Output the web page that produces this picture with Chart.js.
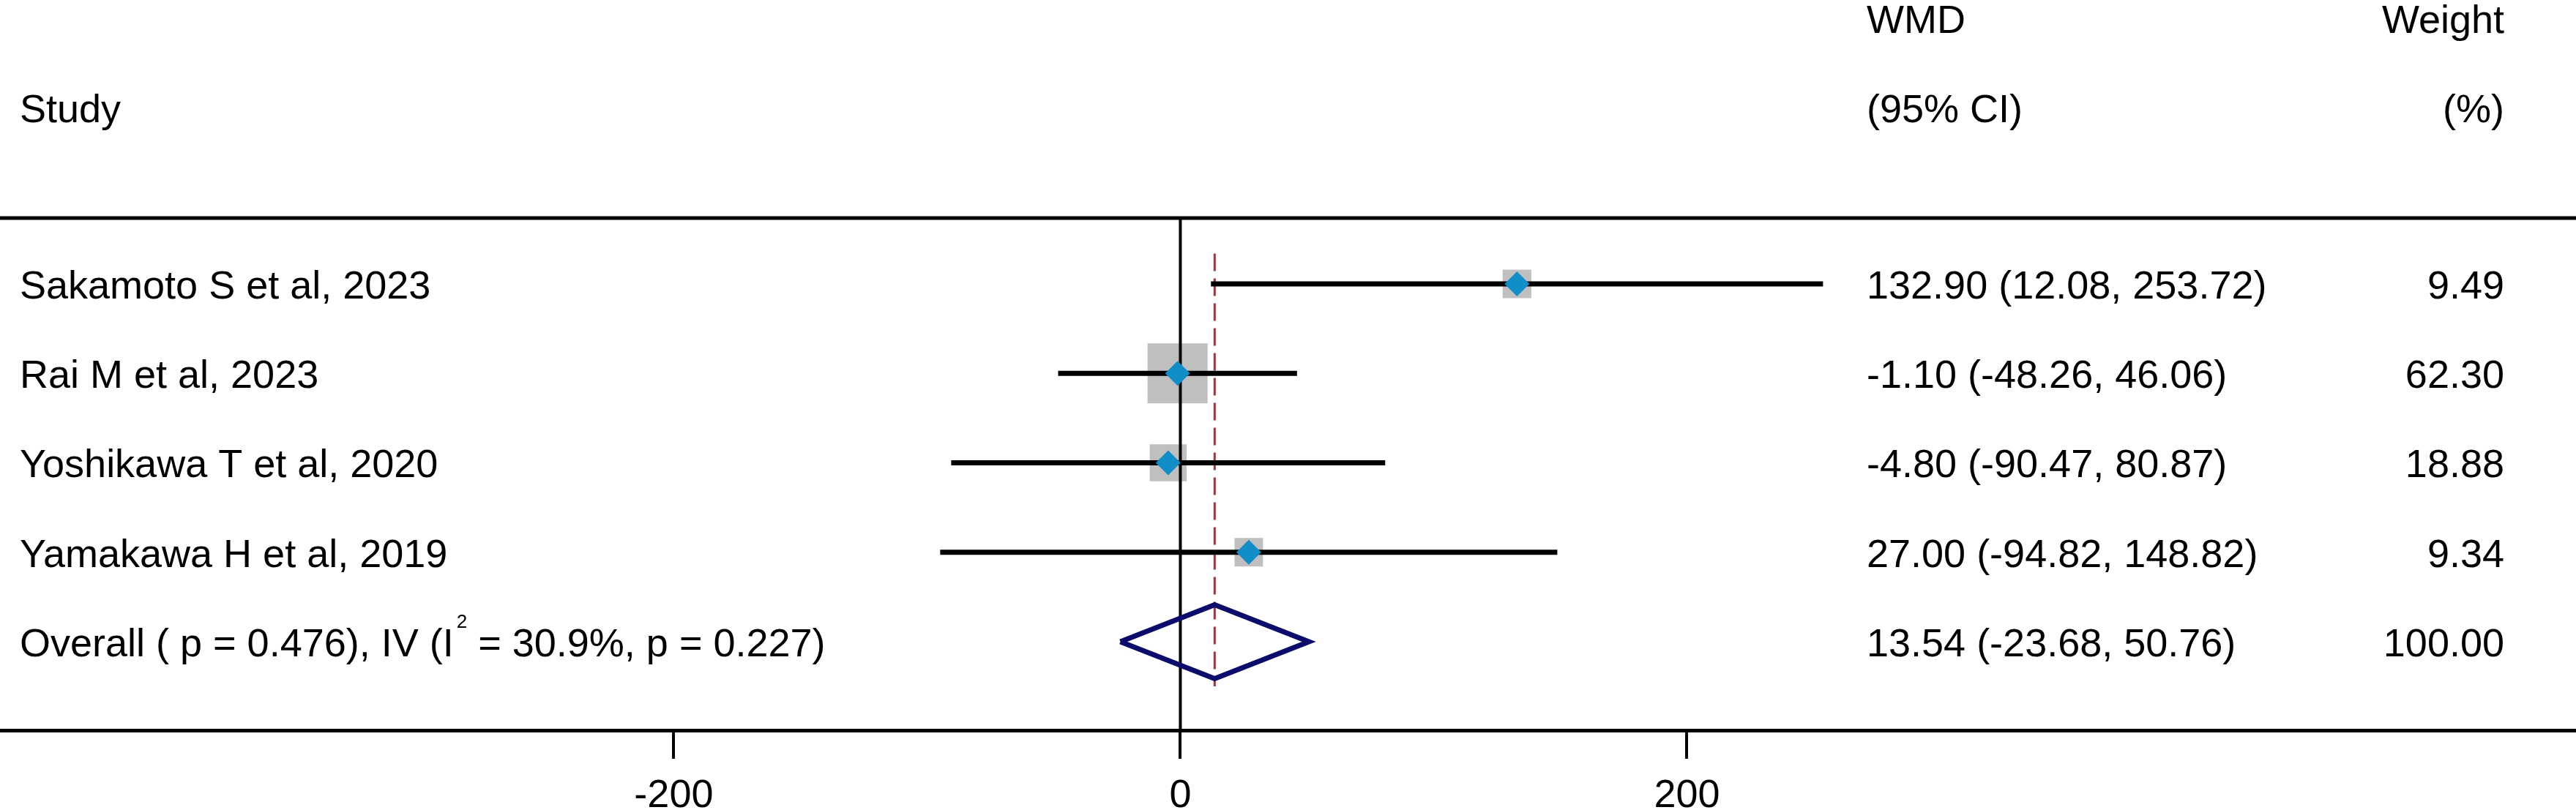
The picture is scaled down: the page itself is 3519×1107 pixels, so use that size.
<!DOCTYPE html>
<html>
<head>
<meta charset="utf-8">
<script src="https://cdn.jsdelivr.net/npm/chart.js@4/dist/chart.umd.min.js"></script>
<style>
  html, body { margin: 0; padding: 0; background: #ffffff; }
  #wrap { width: 3519px; height: 1107px; }
</style>
</head>
<body>
<div id="wrap"><canvas id="c" width="3519" height="1107"></canvas></div>
<script>
// ---------------- data ----------------
const STUDIES   = ['Sakamoto S et al, 2023', 'Rai M et al, 2023', 'Yoshikawa T et al, 2020', 'Yamakawa H et al, 2019'];
const WMD       = [132.90, -1.10, -4.80, 27.00];
const CI_LOW    = [12.08, -48.26, -90.47, -94.82];
const CI_HIGH   = [253.72, 46.06, 80.87, 148.82];
const WEIGHTS   = [9.49, 62.30, 18.88, 9.34];

const OVERALL_WMD    = 13.54;
const OVERALL_LOW    = -23.68;
const OVERALL_HIGH   = 50.76;
const OVERALL_WEIGHT = 100.00;
const OVERALL_LABEL_A = 'Overall ( p = 0.476), IV (I';
const OVERALL_LABEL_SUP = '2';
const OVERALL_LABEL_B = ' = 30.9%, p = 0.227)';

const X_TICKS = [-200, 0, 200];
const HEADER_1 = ['WMD', 'Weight'];
const HEADER_2 = ['Study', '(95% CI)', '(%)'];

// ---------------- layout ----------------
const ROWS = STUDIES.map((_, i) => i + 1);
const OVERALL_ROW = STUDIES.length + 1;
const SEP_ROW = 0.264;
const DIAMOND_HALF = 0.413;
const FONT = '"Liberation Sans", Arial, Helvetica, sans-serif';
const FS = 54;

const nf = v => v.toFixed(2);

const textPlugin = {
  id: 'forestText',
  beforeDatasetsDraw(chart) {
    const ctx = chart.ctx, a = chart.chartArea, y = chart.scales.y;
    ctx.save();
    ctx.strokeStyle = '#000';
    ctx.lineWidth = 5;
    const py = y.getPixelForValue(SEP_ROW);
    ctx.beginPath();
    ctx.moveTo(a.left, py);
    ctx.lineTo(a.right, py);
    ctx.stroke();
    ctx.restore();
  },
  afterDraw(chart) {
    const ctx = chart.ctx, y = chart.scales.y;
    const LEFT = 27, COL_WMD = 2550, COL_W = 3421, OFF = 20;
    ctx.save();
    ctx.fillStyle = '#000';
    ctx.textBaseline = 'alphabetic';
    ctx.font = FS + 'px ' + FONT;
    const bl = r => y.getPixelForValue(r) + OFF;

    // headers
    ctx.textAlign = 'left';
    ctx.fillText(HEADER_1[0], COL_WMD, bl(-1.97));
    ctx.textAlign = 'right';
    ctx.fillText(HEADER_1[1], COL_W, bl(-1.97));
    ctx.textAlign = 'left';
    ctx.fillText(HEADER_2[0], LEFT, bl(-0.97));
    ctx.fillText(HEADER_2[1], COL_WMD, bl(-0.97));
    ctx.textAlign = 'right';
    ctx.fillText(HEADER_2[2], COL_W, bl(-0.97));

    // study rows
    STUDIES.forEach((s, i) => {
      const b = bl(ROWS[i]);
      ctx.textAlign = 'left';
      ctx.fillText(s, LEFT, b);
      ctx.fillText(nf(WMD[i]) + ' (' + nf(CI_LOW[i]) + ', ' + nf(CI_HIGH[i]) + ')', COL_WMD, b);
      ctx.textAlign = 'right';
      ctx.fillText(nf(WEIGHTS[i]), COL_W, b);
    });

    // overall row
    const b = bl(OVERALL_ROW);
    ctx.textAlign = 'left';
    ctx.fillText(OVERALL_LABEL_A, LEFT, b);
    let x = LEFT + ctx.measureText(OVERALL_LABEL_A).width + 4;
    ctx.font = '26px ' + FONT;
    ctx.fillText(OVERALL_LABEL_SUP, x, b - 39);
    x += ctx.measureText(OVERALL_LABEL_SUP).width;
    ctx.font = FS + 'px ' + FONT;
    ctx.fillText(OVERALL_LABEL_B, x, b);
    ctx.fillText(nf(OVERALL_WMD) + ' (' + nf(OVERALL_LOW) + ', ' + nf(OVERALL_HIGH) + ')', COL_WMD, b);
    ctx.textAlign = 'right';
    ctx.fillText(nf(OVERALL_WEIGHT), COL_W, b);
    ctx.restore();
  }
};

const ciDatasets = STUDIES.map((s, i) => ({
  type: 'scatter',
  label: 'CI ' + s,
  data: [{ x: CI_LOW[i], y: ROWS[i] }, { x: CI_HIGH[i], y: ROWS[i] }],
  showLine: true,
  borderColor: '#000',
  borderWidth: 7,
  borderCapStyle: 'butt',
  pointRadius: 0,
  order: 2
}));

const datasets = [
  {
    type: 'scatter',
    label: 'weight boxes',
    data: WMD.map((v, i) => ({ x: v, y: ROWS[i] })),
    pointStyle: 'rect',
    pointRadius: c => (11.5 + 8.94 * Math.sqrt(WEIGHTS[c.dataIndex])) / Math.SQRT2,
    pointBackgroundColor: '#bfbfbf',
    pointBorderWidth: 0,
    borderWidth: 0,
    order: 6
  },
  {
    type: 'scatter',
    label: 'pooled line',
    data: [{ x: OVERALL_WMD, y: 0.66 }, { x: OVERALL_WMD, y: OVERALL_ROW + 0.5 }],
    showLine: true,
    borderColor: '#a3323c',
    borderWidth: 3,
    borderDash: [24, 10],
    pointRadius: 0,
    order: 5
  },
  {
    type: 'scatter',
    label: 'null line',
    data: [{ x: 0, y: SEP_ROW }, { x: 0, y: 6.5 }],
    showLine: true,
    borderColor: '#000',
    borderWidth: 4,
    pointRadius: 0,
    order: 4
  },
  {
    type: 'scatter',
    label: 'overall',
    data: [
      { x: OVERALL_LOW, y: OVERALL_ROW },
      { x: OVERALL_WMD, y: OVERALL_ROW - DIAMOND_HALF },
      { x: OVERALL_HIGH, y: OVERALL_ROW },
      { x: OVERALL_WMD, y: OVERALL_ROW + DIAMOND_HALF },
      { x: OVERALL_LOW, y: OVERALL_ROW }
    ],
    showLine: true,
    borderColor: '#0c0c6c',
    borderWidth: 7,
    borderJoinStyle: 'miter',
    pointRadius: 0,
    order: 3
  },
  ...ciDatasets,
  {
    type: 'scatter',
    label: 'estimates',
    data: WMD.map((v, i) => ({ x: v, y: ROWS[i] })),
    pointStyle: 'rectRot',
    pointRadius: 17,
    pointBackgroundColor: '#118dc8',
    pointBorderWidth: 0,
    borderWidth: 0,
    order: 1
  }
];

new Chart(document.getElementById('c'), {
  type: 'scatter',
  data: { datasets },
  options: {
    responsive: false,
    animation: false,
    devicePixelRatio: 1,
    layout: { padding: 0, autoPadding: false },
    plugins: { legend: { display: false }, tooltip: { enabled: false } },
    scales: {
      x: {
        type: 'linear',
        position: 'bottom',
        min: -466,
        max: 551,
        afterBuildTicks: s => { s.ticks = X_TICKS.map(v => ({ value: v })); },
        afterFit: s => { s.height = 109; },
        ticks: {
          color: '#000',
          font: { family: FONT, size: FS },
          padding: 19,
          maxRotation: 0,
          autoSkip: false,
          callback: v => String(v)
        },
        grid: {
          display: true,
          drawOnChartArea: false,
          drawTicks: true,
          tickLength: 39,
          color: '#000',
          lineWidth: 4
        },
        border: { display: true, color: '#000', width: 5 }
      },
      y: {
        type: 'linear',
        display: false,
        reverse: true,
        min: -2.174,
        max: 5.99
      }
    }
  },
  plugins: [textPlugin]
});
</script>
</body>
</html>
